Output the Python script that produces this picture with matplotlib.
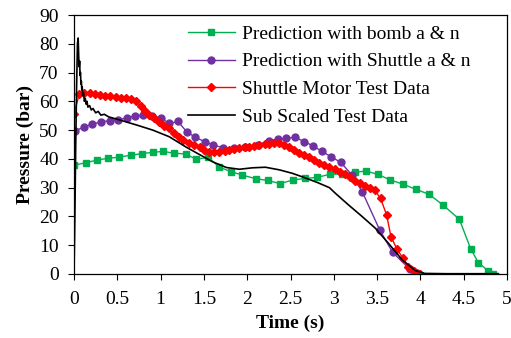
import matplotlib
matplotlib.use("Agg")
import matplotlib.pyplot as plt

# ---- data ----
bomb_t = [0, 0.14, 0.27, 0.39, 0.52, 0.66, 0.78, 0.91, 1.03, 1.15, 1.29, 1.41, 1.55, 1.68,
          1.81, 1.94, 2.10, 2.24, 2.38, 2.53, 2.67, 2.81, 2.96, 3.10, 3.24, 3.37, 3.51, 3.65,
          3.80, 3.95, 4.10, 4.26, 4.45, 4.58, 4.67, 4.78, 4.84]
bomb_p = [37.8, 38.7, 39.6, 40.2, 40.6, 41.3, 41.8, 42.3, 42.6, 42.0, 41.7, 39.9, 40.5, 37.1,
          35.6, 34.4, 33.1, 32.5, 31.4, 32.7, 33.2, 33.6, 34.7, 34.7, 35.3, 35.8, 34.6, 32.7,
          31.2, 29.4, 27.7, 24.0, 19.0, 8.8, 3.9, 1.2, 0.0]

shut_t = [0.01, 0.11, 0.21, 0.31, 0.41, 0.51, 0.61, 0.71, 0.80, 0.90, 1.00, 1.10, 1.20, 1.30,
          1.40, 1.51, 1.61, 1.72, 1.85, 1.98, 2.12, 2.25, 2.35, 2.45, 2.55, 2.66, 2.76, 2.86,
          2.97, 3.08, 3.21, 3.33, 3.53, 3.68, 3.88, 3.96]
shut_p = [49.7, 51.0, 52.1, 52.8, 53.3, 53.5, 54.3, 54.9, 55.2, 55.0, 54.2, 52.3, 53.0, 49.5,
          47.5, 46.0, 44.8, 43.9, 43.7, 44.0, 44.8, 46.3, 46.8, 47.1, 47.5, 46.0, 44.5, 42.7,
          40.7, 38.8, 34.4, 28.5, 15.3, 7.5, 1.6, 0.2]

motor_t = [0.0, 0.06, 0.12, 0.18, 0.24, 0.30, 0.36, 0.42, 0.48, 0.54, 0.60, 0.66, 0.72, 0.77,
           0.82, 0.87, 0.92, 0.98, 1.04, 1.10, 1.15, 1.21, 1.26, 1.33, 1.39, 1.45, 1.50, 1.56,
           1.62, 1.68, 1.74, 1.79, 1.85, 1.91, 1.97, 2.02, 2.08, 2.14, 2.20, 2.25, 2.31, 2.37,
           2.43, 2.48, 2.54, 2.60, 2.66, 2.71, 2.77, 2.83, 2.89, 2.95, 3.01, 3.07, 3.13, 3.19,
           3.25, 3.30, 3.36, 3.42, 3.47, 3.54, 3.61, 3.66, 3.73, 3.80, 3.86, 3.93, 4.00]
motor_p = [55.6, 62.5, 62.8, 62.8, 62.6, 62.3, 62.0, 61.8, 61.5, 61.3, 61.0, 60.7, 60.0, 58.4,
           56.8, 55.3, 54.1, 52.9, 51.5, 50.6, 48.9, 47.7, 46.6, 45.4, 44.8, 44.0, 43.1, 42.5,
           42.3, 42.5, 42.7, 43.1, 43.3, 43.7, 44.0, 44.3, 44.5, 44.8, 45.1, 45.2, 45.4, 45.4,
           45.0, 44.3, 43.2, 42.2, 41.3, 40.6, 39.6, 38.7, 37.9, 37.2, 36.5, 35.6, 34.7, 33.8,
           32.4, 31.5, 30.5, 29.8, 29.2, 26.3, 20.5, 13.0, 8.6, 5.4, 2.5, 1.2, 0.0]

sub_t = [0.0, 0.01, 0.02, 0.03, 0.04, 0.048, 0.055, 0.06, 0.065, 0.07, 0.075, 0.08, 0.085,
         0.09, 0.095, 0.10, 0.11, 0.12, 0.13, 0.14, 0.15, 0.16, 0.18, 0.20, 0.22, 0.25, 0.28,
         0.31, 0.35, 0.40, 0.53, 0.72, 0.91, 1.10, 1.30, 1.45, 1.60, 1.76, 1.91, 2.06, 2.21,
         2.37, 2.52, 2.67, 2.81, 2.95, 3.02, 3.17, 3.33, 3.48, 3.63, 3.79, 3.94, 4.05, 4.30,
         4.60, 4.90]
sub_p = [0.0, 20, 45, 65, 80, 82, 75, 72, 74, 69, 70, 66, 67,
         64, 65, 62, 63, 60, 61, 59, 60, 58, 58.5, 57, 57.5, 56, 56.5,
         55.2, 55.5, 54.6, 53.5, 51.8, 50.0, 47.7, 44.0, 41.5, 39.0, 37.0, 36.4, 36.9, 37.1,
         36.2, 35.0, 33.4, 31.8, 30.0, 28.0, 24.0, 19.9, 15.9, 10.7, 4.9, 1.2, 0.2, 0.1,
         0.1, 0.1]

labels = ["Prediction with bomb a & n", "Prediction with Shuttle a & n",
          "Shuttle Motor Test Data", "Sub Scaled Test Data"]
x_ticks = [0, 0.5, 1, 1.5, 2, 2.5, 3, 3.5, 4, 4.5, 5]
x_tick_labels = ["0", "0.5", "1", "1.5", "2", "2.5", "3", "3.5", "4", "4.5", "5"]
y_ticks = [0, 10, 20, 30, 40, 50, 60, 70, 80, 90]

plt.rcParams['font.family'] = ['Liberation Serif', 'DejaVu Serif']

fig = plt.figure(figsize=(5.11, 3.38), dpi=100)
ax = fig.add_axes([74/511, 1-274/338, 433/511, 259/338])

ax.plot(bomb_t, bomb_p, color='#00B050', lw=1.0, marker='s', ms=5, label=labels[0])
ax.plot(shut_t, shut_p, color='#7030A0', lw=1.0, marker='o', ms=5, label=labels[1])
ax.plot(motor_t, motor_p, color='#FF0000', lw=1.0, marker='D', ms=3.8, label=labels[2])
ax.plot(sub_t, sub_p, color='#000000', lw=1.2, label=labels[3])

ax.set_xlim(0, 5)
ax.set_ylim(0, 90)
ax.set_xticks(x_ticks)
ax.set_xticklabels(x_tick_labels)
ax.set_yticks(y_ticks)
ax.tick_params(direction='out', length=4, width=0.8, labelsize=14, top=False, right=False)
ax.tick_params(axis='x', pad=8)
ax.tick_params(axis='y', pad=7)
for s in ax.spines.values():
    s.set_linewidth(0.9)

ax.set_xlabel("Time (s)", fontsize=14, fontweight='bold', labelpad=5)
ax.set_ylabel("Pressure (bar)", fontsize=14, fontweight='bold', labelpad=4)

leg = ax.legend(loc='upper left', bbox_to_anchor=(0.263, 0.96), frameon=False,
                fontsize=14, borderpad=0, borderaxespad=0, labelspacing=0.51,
                handlelength=2.4, handletextpad=0.4)

fig.savefig("out.png", dpi=100)
